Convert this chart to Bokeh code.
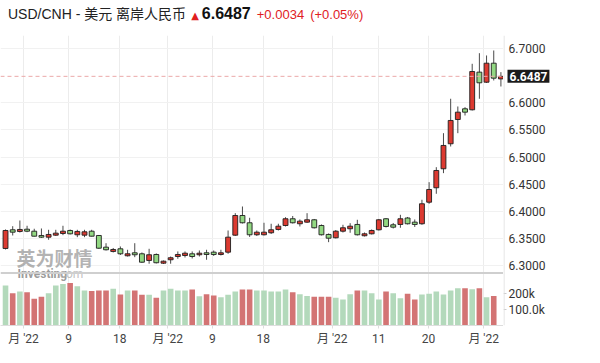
from bokeh.plotting import figure
from bokeh.layouts import column, row
from bokeh.models import Range1d, FixedTicker, Span, Label, Div
from bokeh.core.properties import value
from bokeh.embed import file_html
from bokeh.resources import INLINE

# ---------------- data ----------------
opens = [6.3317, 6.3661, 6.3630, 6.3672, 6.3635, 6.3556, 6.3525, 6.3562, 6.3593, 6.3648,
         6.3569, 6.3562, 6.3635, 6.3556, 6.3341, 6.3262, 6.3311, 6.3182, 6.3237, 6.3219,
         6.3096, 6.3206, 6.3046, 6.3109, 6.3169, 6.3188, 6.3219, 6.3201, 6.3237, 6.3249,
         6.3206, 6.3249, 6.3562, 6.3924, 6.3790, 6.3569, 6.3569, 6.3606, 6.3667, 6.3740,
         6.3864, 6.3772, 6.3802, 6.3845, 6.3740, 6.3575, 6.3514, 6.3635, 6.3680, 6.3759,
         6.3551, 6.3587, 6.3661, 6.3864, 6.3753, 6.3759, 6.3878, 6.3802, 6.3772, 6.4169,
         6.4435, 6.4785, 6.5245, 6.5692, 6.5889, 6.5871, 6.6564, 6.6379, 6.6729, 6.6440]
highs = [6.3667, 6.3727, 6.3832, 6.3735, 6.3680, 6.3685, 6.3661, 6.3661, 6.3735, 6.3667,
         6.3661, 6.3661, 6.3661, 6.3565, 6.3414, 6.3326, 6.3354, 6.3293, 6.3414, 6.3243,
         6.3311, 6.3225, 6.3096, 6.3169, 6.3262, 6.3262, 6.3262, 6.3280, 6.3293, 6.3280,
         6.3293, 6.3648, 6.3967, 6.4090, 6.3882, 6.3648, 6.3790, 6.3772, 6.3772, 6.3893,
         6.3915, 6.3851, 6.3967, 6.3860, 6.3759, 6.3593, 6.3657, 6.3753, 6.3783, 6.3845,
         6.3611, 6.3667, 6.3860, 6.3878, 6.3786, 6.3937, 6.3897, 6.3851, 6.4214, 6.4538,
         6.4814, 6.5440, 6.6074, 6.5932, 6.5919, 6.6718, 6.6913, 6.6871, 6.6963, 6.6564]
lows = [6.3298, 6.3556, 6.3611, 6.3617, 6.3538, 6.3510, 6.3477, 6.3547, 6.3562, 6.3575,
        6.3525, 6.3525, 6.3538, 6.3308, 6.3280, 6.3243, 6.3197, 6.3169, 6.3157, 6.3050,
        6.3036, 6.3041, 6.3031, 6.3036, 6.3127, 6.3151, 6.3133, 6.3169, 6.3109, 6.3179,
        6.3188, 6.3219, 6.3547, 6.3777, 6.3529, 6.3547, 6.3556, 6.3584, 6.3648, 6.3722,
        6.3777, 6.3722, 6.3787, 6.3685, 6.3556, 6.3433, 6.3501, 6.3611, 6.3606, 6.3556,
        6.3538, 6.3575, 6.3648, 6.3704, 6.3685, 6.3698, 6.3759, 6.3713, 6.3753, 6.4140,
        6.4324, 6.4704, 6.5195, 6.5440, 6.5766, 6.5858, 6.6074, 6.6365, 6.6411, 6.6300]
closes = [6.3648, 6.3617, 6.3667, 6.3635, 6.3543, 6.3525, 6.3575, 6.3599, 6.3635, 6.3587,
          6.3630, 6.3624, 6.3543, 6.3322, 6.3293, 6.3298, 6.3219, 6.3219, 6.3201, 6.3064,
          6.3201, 6.3054, 6.3083, 6.3146, 6.3206, 6.3230, 6.3169, 6.3230, 6.3206, 6.3206,
          6.3237, 6.3525, 6.3924, 6.3790, 6.3569, 6.3617, 6.3617, 6.3661, 6.3727, 6.3864,
          6.3790, 6.3820, 6.3845, 6.3698, 6.3569, 6.3506, 6.3635, 6.3698, 6.3727, 6.3569,
          6.3587, 6.3648, 6.3845, 6.3722, 6.3709, 6.3864, 6.3772, 6.3759, 6.4140, 6.4403,
          6.4753, 6.5214, 6.5674, 6.5827, 6.5827, 6.6576, 6.6368, 6.6729, 6.6453, 6.6487]
# volume in thousands (no bar yet for the last session)
volumes_k = [250, 202, 212, 208, 167, 179, 202, 250, 260, 265,
             246, 219, 215, 219, 219, 229, 194, 219, 219, 192,
             192, 173, 219, 229, 219, 219, 225, 183, 196, 187,
             177, 192, 212, 225, 225, 219, 219, 212, 212, 225,
             208, 196, 185, 179, 179, 179, 173, 162, 196, 219,
             219, 202, 162, 212, 202, 171, 198, 162, 194, 198,
             212, 194, 219, 233, 233, 227, 233, 177, 185]
# 1 = bar drawn green, 0 = bar drawn red
volume_up = [1, 0, 1, 0, 0, 0, 1, 1, 1, 0,
             1, 1, 0, 0, 0, 1, 0, 1, 0, 0,
             1, 0, 1, 1, 1, 1, 0, 1, 0, 0,
             1, 1, 1, 0, 0, 1, 1, 1, 1, 1,
             0, 1, 1, 0, 0, 0, 1, 1, 1, 0,
             1, 1, 1, 0, 1, 1, 0, 0, 1, 1,
             1, 1, 1, 1, 0, 1, 0, 1, 0]
price_ticks = [6.30, 6.35, 6.40, 6.45, 6.50, 6.55, 6.60, 6.70]
volume_ticks = [100000, 200000]
volume_tick_labels = ["100.0k", "200k"]
x_tick_pos = [2.5, 8.8, 15.9, 22.6, 28.8, 35.9, 45.5, 52.0, 58.9, 66.6]
x_tick_labels = ["月 '22", "9", "18", "月 '22", "9", "18", "月 '22", "11", "20", "月 '22"]
title_name = "USD/CNH - 美元 离岸人民币"
last_change = "+0.0034"
last_change_pct = "(+0.05%)"

# ---------------- layout constants ----------------
HEADER_H = 25
MAIN_W, SIDE_W = 503, 81
FRAME_H = 290
BOTTOM = 30
MAIN_H = FRAME_H + BOTTOM
PX_PER_PRICE = 543.0
PRICE_TOP = 6.7239
PRICE_BOTTOM = PRICE_TOP - FRAME_H / PX_PER_PRICE
SEP_PRICE = PRICE_TOP - 237.5 / PX_PER_PRICE
VOL_PER_PX = 6250.0
VOL_TOP = FRAME_H * VOL_PER_PX

UP_RED = "#dc3a31"
DOWN_GREEN = "#92d882"
VOL_GREEN = "#b3d9bb"
VOL_RED = "#d37474"
RED_TXT = "#e0201f"

n = len(opens)
idx = list(range(n))
body_top = [max(o, c) for o, c in zip(opens, closes)]
body_bot = [min(o, c) for o, c in zip(opens, closes)]
body_col = [UP_RED if c >= o else DOWN_GREEN for o, c in zip(opens, closes)]
vols = [v * 1000 for v in volumes_k]
vol_col = [VOL_GREEN if u else VOL_RED for u in volume_up]

y_rng = Range1d(PRICE_BOTTOM, PRICE_TOP)
vol_rng = Range1d(0, VOL_TOP)

# ---------------- main chart ----------------
p = figure(width=MAIN_W, height=MAIN_H, output_backend="svg", toolbar_location=None,
           x_range=Range1d(-0.70, 69.36), y_range=y_rng, y_axis_location=None,
           min_border_left=0, min_border_right=0, min_border_top=0,
           min_border_bottom=BOTTOM)
p.extra_y_ranges = {"vol": vol_rng}
p.outline_line_color = None
p.xgrid.grid_line_color = "#ececec"
p.ygrid.ticker = FixedTicker(ticks=price_ticks)
p.ygrid.grid_line_color = "#f1f1f1"

# watermark (behind the data)
p.add_layout(Label(x=16, y=68, x_units="screen", y_units="screen", text="英为财情",
                   text_font="Noto Sans CJK SC", text_font_size="19px",
                   text_font_style="bold", text_color="#9a9a9a", text_alpha=0.75,
                   text_baseline="middle", level="underlay"))
p.add_layout(Label(x=17, y=52, x_units="screen", y_units="screen", text="Investing",
                   text_font="Roboto", text_font_size="12px", text_font_style="bold",
                   text_color="#8a8a8a", text_alpha=0.85, text_baseline="middle",
                   level="underlay"))
p.add_layout(Label(x=56, y=52, x_units="screen", y_units="screen", text=".com",
                   text_font="Roboto", text_font_size="12px",
                   text_color="#b5b5b5", text_alpha=0.85, text_baseline="middle",
                   level="underlay"))

# volume bars
p.vbar(x=idx[:len(vols)], top=vols, bottom=0, width=0.78, fill_color=vol_col,
       line_color=None, y_range_name="vol")

# separator between panels
p.add_layout(Span(location=SEP_PRICE, dimension="width", line_color="#cfcfcf",
                  line_width=2))
# last price dashed line
p.add_layout(Span(location=closes[-1], dimension="width", line_color="#eba9a9",
                  line_dash="4 3", line_width=1))

# candles
p.segment(x0=idx, y0=lows, x1=idx, y1=highs, line_color="#4a4a4a", line_width=1)
p.vbar(x=idx, top=body_top, bottom=body_bot, width=0.68, fill_color=body_col,
       line_color="#1e1e1e", line_width=0.9)

xa = p.xaxis[0]
xa.ticker = FixedTicker(ticks=x_tick_pos)
xa.major_label_overrides = {t: l for t, l in zip(x_tick_pos, x_tick_labels)}
xa.major_label_text_font = "Roboto, Noto Sans CJK SC"
xa.major_label_text_font_size = "12px"
xa.major_label_text_color = "#444444"
xa.axis_line_color = "#dddddd"
xa.major_tick_line_color = "#dddddd"
xa.major_tick_out = 3
xa.major_tick_in = 0
xa.minor_tick_line_color = None
xa.major_label_standoff = 3

# ---------------- right-hand price / volume scale ----------------
side = figure(width=SIDE_W, height=MAIN_H, output_backend="svg", toolbar_location=None,
              x_range=Range1d(0, SIDE_W), y_range=y_rng, y_axis_location=None,
              min_border_left=0, min_border_right=0, min_border_top=0,
              min_border_bottom=BOTTOM)
side.extra_y_ranges = {"vol": vol_rng}
side.outline_line_color = None
side.xgrid.grid_line_color = None
side.ygrid.grid_line_color = None
sa = side.xaxis[0]
sa.ticker = FixedTicker(ticks=[40])
sa.major_label_overrides = {40: x_tick_labels[0]}
sa.major_label_text_font = "Roboto, Noto Sans CJK SC"
sa.major_label_text_font_size = "12px"
sa.major_label_text_alpha = 0
sa.axis_line_color = None
sa.major_tick_line_color = None
sa.major_tick_out = 3
sa.major_tick_in = 0
sa.minor_tick_line_color = None
sa.major_label_standoff = 3

side.add_layout(Span(location=0.5, dimension="height", line_color="#dddddd",
                     line_width=1))
side.text(x=[5] * len(price_ticks), y=price_ticks,
          text=[f"{t:.4f}" for t in price_ticks], text_font=value("Roboto"),
          text_font_size="12px", text_color="#333333", text_baseline="middle")
side.segment(x0=[0] * len(volume_ticks), x1=[3] * len(volume_ticks), y0=volume_ticks,
             y1=volume_ticks, line_color="#cccccc", y_range_name="vol")
side.text(x=[5] * len(volume_ticks), y=volume_ticks, text=volume_tick_labels,
          text_font=value("Roboto"), text_font_size="12px", text_color="#333333",
          text_baseline="middle", y_range_name="vol")
side.add_layout(Label(x=4, y=closes[-1], text=f"{closes[-1]:.4f}",
                      text_font="Roboto", text_font_size="12px", text_font_style="bold",
                      text_color="white", text_baseline="middle",
                      background_fill_color="#1b1b1b", padding=2))

# ---------------- header ----------------
header_html = (
    '<div style="font-family: \'Liberation Sans\', \'Noto Sans CJK SC\', sans-serif; '
    'white-space: nowrap; padding-left: 3px; padding-top: 0px; line-height: 18px;">'
    f'<span style="font-size:14px; color:#222222;">{title_name}</span>'
    f'<span style="font-size:10px; color:{RED_TXT}; margin-left:5px; '
    'font-family: \'DejaVu Sans\';">▲</span>'
    f'<span style="font-size:16px; font-weight:bold; color:#111111; margin-left:3px;">'
    f'{closes[-1]:.4f}</span>'
    f'<span style="font-size:13px; color:{RED_TXT}; margin-left:6px;">{last_change}</span>'
    f'<span style="font-size:13px; color:{RED_TXT}; margin-left:6px;">{last_change_pct}</span>'
    '</div>'
)
header = Div(text=header_html, width=MAIN_W + SIDE_W, height=HEADER_H)

layout = column(header, row(p, side, spacing=0), spacing=0)

open("out.html", "w").write(file_html(layout, INLINE))
